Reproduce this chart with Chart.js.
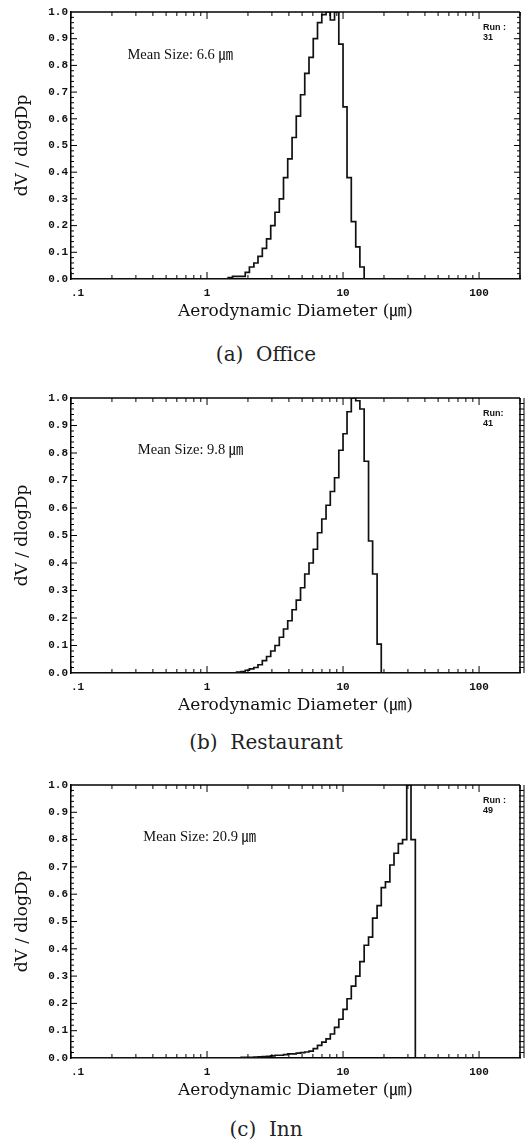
<!DOCTYPE html>
<html>
<head>
<meta charset="utf-8">
<script src="https://cdn.jsdelivr.net/npm/chart.js@4.4.1/dist/chart.umd.min.js"></script>
<style>
  html, body { margin: 0; padding: 0; background: #fff; }
  body { width: 526px; height: 1142px; position: relative; overflow: hidden; }
  .panel { position: absolute; left: 0; width: 526px; }
  .caption { position: absolute; left: 0; width: 532px; text-align: center; font-family: 'DejaVu Serif', serif; font-size: 20px; color: #222; white-space: pre; }
</style>
</head>
<body>
<div class="panel" style="top:0px"><canvas id="chartA" width="526" height="324"></canvas></div>
<div class="caption" style="top:342px">(a)  Office</div>
<div class="panel" style="top:386px"><canvas id="chartB" width="526" height="332"></canvas></div>
<div class="caption" style="top:730px">(b)  Restaurant</div>
<div class="panel" style="top:773px"><canvas id="chartC" width="526" height="330"></canvas></div>
<div class="caption" style="top:1117px">(c)  Inn</div>

<script>
// channel lower edges (aerodynamic diameter, um)
const diameters = [1.43, 1.54, 1.65, 1.78, 1.91, 2.05, 2.21, 2.37, 2.55, 2.74, 2.94, 3.16,
  3.40, 3.65, 3.92, 4.22, 4.53, 4.87, 5.23, 5.62, 6.04, 6.49, 6.98, 7.50,
  8.06, 8.66, 9.31, 10.0, 10.7, 11.5, 12.4, 13.3, 14.3, 15.4, 16.5, 17.8,
  19.1, 20.5, 22.1, 23.7, 25.5, 27.4, 29.4, 31.6, 34.0, 36.5, 39.2, 42.2];

// dV/dlogDp (normalised) per channel
const officeValues = [0, 0.005, 0.01, 0.01, 0.01, 0.025, 0.045, 0.06, 0.085, 0.115, 0.15, 0.20,
  0.25, 0.30, 0.38, 0.45, 0.53, 0.61, 0.69, 0.77, 0.83, 0.90, 0.96, 0.99,
  1.0, 0.97, 1.0, 0.88, 0.645, 0.38, 0.215, 0.12, 0.045, 0, 0, 0,
  0, 0, 0, 0, 0, 0, 0, 0, 0, 0, 0, 0];
const restaurantValues = [0, 0, 0, 0.003, 0.005, 0.01, 0.015, 0.02, 0.03, 0.045, 0.06, 0.08,
  0.10, 0.13, 0.16, 0.19, 0.23, 0.265, 0.31, 0.36, 0.40, 0.45, 0.51, 0.56,
  0.61, 0.66, 0.71, 0.81, 0.87, 0.95, 1.0, 0.99, 0.96, 0.77, 0.48, 0.36,
  0.105, 0, 0, 0, 0, 0, 0, 0, 0, 0, 0, 0];
const innValues = [0.001, 0.001, 0.001, 0.001, 0.002, 0.002, 0.002, 0.003, 0.004, 0.005, 0.006, 0.008,
  0.01, 0.01, 0.012, 0.015, 0.015, 0.018, 0.02, 0.022, 0.025, 0.034, 0.046, 0.058,
  0.07, 0.088, 0.112, 0.142, 0.178, 0.217, 0.263, 0.30, 0.353, 0.413, 0.443, 0.512,
  0.558, 0.624, 0.645, 0.707, 0.75, 0.785, 0.80, 1.0, 0.80, 0, 0, 0];

const xTicks = [0.1, 1, 10, 100];
const xTickLabels = ['  .1', '1', '10', '100'];
const xMinorTicks = [0.2, 0.3, 0.4, 0.5, 0.6, 0.7, 0.8, 0.9, 2, 3, 4, 5, 6, 7, 8, 9,
  20, 30, 40, 50, 60, 70, 80, 90, 200];
const yTicks = [0, 0.1, 0.2, 0.3, 0.4, 0.5, 0.6, 0.7, 0.8, 0.9, 1.0];

const meanSizes = ['Mean Size: 6.6 \u339B', 'Mean Size: 9.8 \u339B', 'Mean Size: 20.9 \u339B'];
const runLabels = [['Run :', '31'], ['Run:', '41'], ['Run :', '49']];

const tickFont = { family: "'Liberation Mono', monospace", size: 11, weight: 'bold' };
const serif = "'DejaVu Serif', 'Noto Sans CJK KR', serif";

// inside ticks, top/right frame and the text inside the plot
const framePlugin = {
  id: 'frame',
  afterDatasetsDraw(chart, args, opts) {
    const { ctx, chartArea: a, scales: { x, y } } = chart;
    const seg = (x1, y1, x2, y2) => { ctx.beginPath(); ctx.moveTo(x1, y1); ctx.lineTo(x2, y2); ctx.stroke(); };
    ctx.save();
    ctx.strokeStyle = '#000';
    ctx.lineWidth = 1.5;
    seg(a.left, a.top, a.right, a.top);
    seg(a.right, a.top, a.right, a.bottom);
    ctx.lineWidth = 1;
    xTicks.concat(xMinorTicks).forEach(v => {
      const px = x.getPixelForValue(v);
      if (px < a.left || px > a.right) return;
      const len = xTicks.includes(v) ? 7 : 4;
      seg(px, a.bottom, px, a.bottom - len);
      seg(px, a.top, px, a.top + len);
    });
    for (let i = 1; i < 50; i++) {
      const py = y.getPixelForValue(i / 50);
      const len = i % 5 === 0 ? 6 : 3;
      seg(a.left, py, a.left + len, py);
      if (opts.ladder) {
        seg(a.right - 1, py, a.right + 4, py);
      } else {
        seg(a.right, py, a.right - len, py);
      }
    }
    if (opts.ladder) {
      seg(a.right + 4, a.top, a.right + 4, a.bottom);
    }
    // mean size text
    ctx.fillStyle = '#111';
    ctx.font = "14.5px 'Liberation Serif', 'Noto Sans CJK KR', serif";
    ctx.textBaseline = 'middle';
    ctx.textAlign = 'left';
    ctx.fillText(opts.mean, x.getPixelForValue(opts.meanAt[0]), y.getPixelForValue(opts.meanAt[1]));
    // run label
    ctx.font = "bold 9px 'Liberation Sans', sans-serif";
    ctx.fillText(opts.run[0], a.right - 37, a.top + 16);
    ctx.fillText(opts.run[1], a.right - 37, a.top + 26);
    ctx.restore();
  }
};

function makePanel(id, values, opts) {
  const points = [{ x: 0.1, y: 0 }]
    .concat(diameters.map((d, i) => ({ x: d, y: values[i] })))
    .concat([{ x: 200, y: 0 }]);

  const ctx = document.getElementById(id).getContext('2d');
  return new Chart(ctx, {
    type: 'scatter',
    data: {
      datasets: [{
        data: points,
        showLine: true,
        stepped: 'after',
        borderColor: '#111',
        borderWidth: 1.7,
        pointRadius: 0,
        fill: false,
      }]
    },
    options: {
      responsive: false,
      animation: false,
      layout: { padding: { top: 12, right: 6, left: 0, bottom: 0 } },
      plugins: {
        legend: { display: false },
        tooltip: { enabled: false },
        frame: opts,
      },
      scales: {
        x: {
          type: 'logarithmic',
          min: 0.1,
          max: 200,
          afterBuildTicks: scale => { scale.ticks = xTicks.map(v => ({ value: v })); },
          afterFit: scale => { scale.height = 45; },
          ticks: {
            autoSkip: false,
            maxRotation: 0,
            padding: 8,
            color: '#111',
            font: tickFont,
            callback: value => xTickLabels[xTicks.indexOf(value)],
          },
          grid: { display: false, drawTicks: false },
          border: { display: true, color: '#000', width: 1.5 },
          title: {
            display: true,
            text: 'Aerodynamic Diameter (\u339B)',
            color: '#111',
            font: { family: serif, size: 17 },
            padding: { top: 0, bottom: 2 },
          },
        },
        y: {
          min: 0,
          max: 1,
          afterBuildTicks: scale => { scale.ticks = yTicks.map(v => ({ value: v })); },
          afterFit: scale => { scale.width = 71; },
          ticks: {
            padding: 3,
            color: '#111',
            font: tickFont,
            callback: value => value.toFixed(1),
          },
          grid: { display: false, drawTicks: false },
          border: { display: true, color: '#000', width: 1.5 },
          title: {
            display: true,
            text: 'dV / dlogDp',
            color: '#111',
            font: { family: serif, size: 17 },
            padding: { top: 12, bottom: 0 },
          },
        },
      },
    },
    plugins: [framePlugin],
  });
}

makePanel('chartA', officeValues, { mean: meanSizes[0], meanAt: [0.26, 0.84], run: runLabels[0], ladder: false });
makePanel('chartB', restaurantValues, { mean: meanSizes[1], meanAt: [0.31, 0.81], run: runLabels[1], ladder: true });
makePanel('chartC', innValues, { mean: meanSizes[2], meanAt: [0.34, 0.81], run: runLabels[2], ladder: true });
</script>
</body>
</html>
